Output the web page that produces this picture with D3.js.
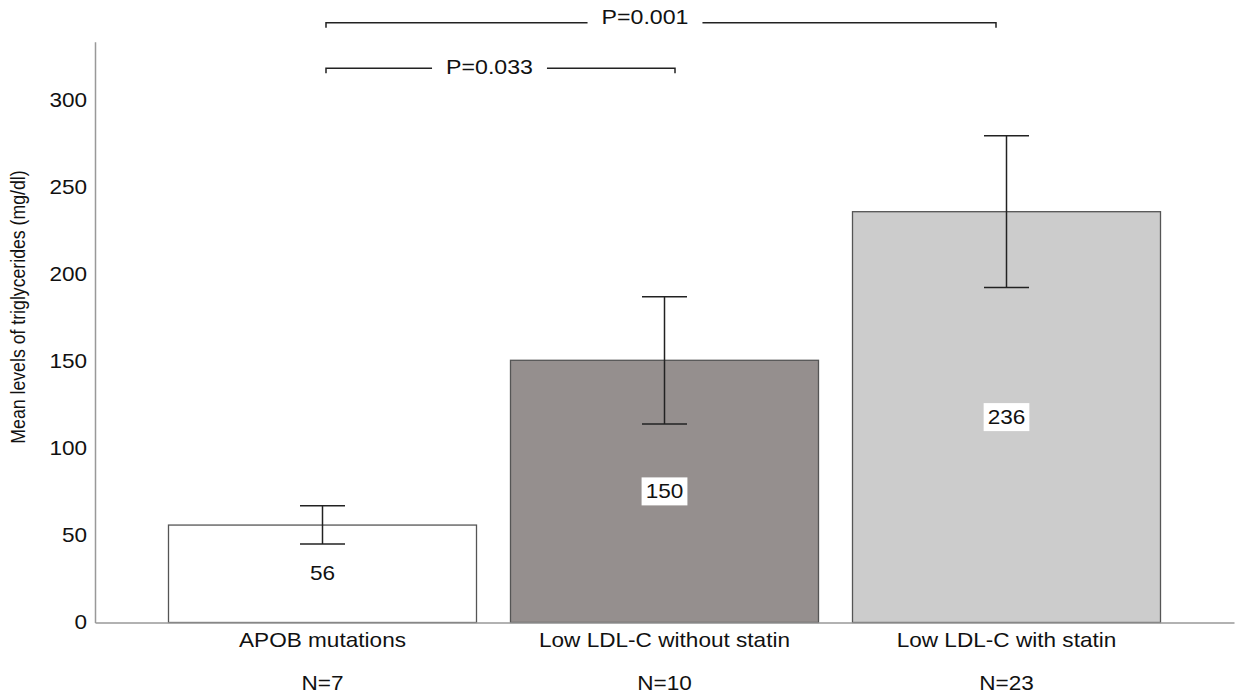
<!DOCTYPE html>
<html>
<head>
<meta charset="utf-8">
<script src="https://cdn.jsdelivr.net/npm/d3@7"></script>
<style>
  html, body { margin: 0; padding: 0; background: #fff; }
  svg { display: block; }
  text { font-family: "Liberation Sans", Arial, sans-serif; fill: #111; }
</style>
</head>
<body>
<div id="chart"></div>
<script>
// data
const categories = ["APOB mutations", "Low LDL-C without statin", "Low LDL-C with statin"];
const sampleSizes = ["N=7", "N=10", "N=23"];
const means = [56.0, 150.7, 236.1];
const ciLow = [45.1, 114.1, 192.6];
const ciHigh = [67.1, 187.2, 279.8];
const valueLabels = ["56", "150", "236"];
const yTicks = [0, 50, 100, 150, 200, 250, 300];
const comparisons = [
  { from: 0, to: 2, label: "P=0.001", level: 344.7 },
  { from: 0, to: 1, label: "P=0.033", level: 318.5 },
];

const barFills = ["#ffffff", "#958f8e", "#cccccc"];
const stretch = 1.13; // reference text is a bit wider than normal

const width = 1237, height = 698;
const plotLeft = 95, plotRight = 1234, plotBottom = 622.5, plotTop = 41.7;

const svg = d3.select("#chart").append("svg")
  .attr("width", width)
  .attr("height", height);

const x = d3.scaleBand()
  .domain(categories)
  .range([plotLeft, plotRight])
  .paddingInner(0.0994)
  .paddingOuter(0.2149);

const y = d3.scaleLinear()
  .domain([0, 333.8])
  .range([plotBottom, plotTop]);

const cx = (i) => x(categories[i]) + x.bandwidth() / 2;

// Bars
svg.append("g")
  .selectAll("rect")
  .data(means)
  .enter()
  .append("rect")
  .attr("x", (d, i) => x(categories[i]))
  .attr("y", (d) => y(d))
  .attr("width", x.bandwidth())
  .attr("height", (d) => y(0) - y(d))
  .attr("fill", (d, i) => barFills[i])
  .attr("stroke", "#555")
  .attr("stroke-width", 1.3);

// Error bars
const err = svg.append("g").attr("stroke", "#222").attr("stroke-width", 1.5);
means.forEach((m, i) => {
  const c = cx(i);
  err.append("line").attr("x1", c).attr("x2", c).attr("y1", y(ciLow[i])).attr("y2", y(ciHigh[i]));
  [ciLow[i], ciHigh[i]].forEach((v) => {
    err.append("line").attr("x1", c - 22.5).attr("x2", c + 22.5).attr("y1", y(v)).attr("y2", y(v));
  });
});

// Value labels in white boxes
const vl = svg.append("g");
means.forEach((m, i) => {
  const c = cx(i);
  const my = (y(m) + y(0)) / 2;
  const g = vl.append("g");
  const box = g.append("rect").attr("fill", "#fff");
  const t = g.append("text")
    .attr("transform", `translate(${c},${my}) scale(${stretch},1)`)
    .attr("text-anchor", "middle")
    .attr("dominant-baseline", "central")
    .attr("font-size", 20)
    .text(valueLabels[i]);
  const bb = t.node().getBBox();
  const w = bb.width * stretch + 8;
  box.attr("x", c - w / 2).attr("y", my - 14).attr("width", w).attr("height", 28);
});

// Y axis
const yAxis = svg.append("g")
  .attr("transform", `translate(${plotLeft},0)`)
  .call(d3.axisLeft(y).tickValues(yTicks).tickSize(0).tickSizeOuter(0).tickPadding(7));
yAxis.select(".domain").attr("stroke", "#999").attr("stroke-width", 1.5);
yAxis.selectAll(".tick text")
  .attr("font-size", 20)
  .attr("fill", "#111")
  .attr("font-family", "Liberation Sans, Arial, sans-serif")
  .attr("transform", `scale(${stretch},1)`);

// X axis
const xAxis = svg.append("g")
  .attr("transform", `translate(0,${plotBottom})`)
  .call(d3.axisBottom(x).tickSize(0).tickSizeOuter(0));
xAxis.select(".domain").attr("stroke", "#999").attr("stroke-width", 1.5);
xAxis.selectAll(".tick text")
  .attr("font-size", 20)
  .attr("fill", "#111")
  .attr("font-family", "Liberation Sans, Arial, sans-serif")
  .attr("dy", null)
  .attr("y", null)
  .attr("transform", `translate(0,24) scale(${stretch},1)`);
xAxis.selectAll(".tick")
  .append("text")
  .attr("font-size", 20)
  .attr("fill", "#111")
  .attr("font-family", "Liberation Sans, Arial, sans-serif")
  .attr("text-anchor", "middle")
  .attr("transform", `translate(0,67.5) scale(${stretch},1)`)
  .text((d, i) => sampleSizes[i]);

// Y axis title
svg.append("text")
  .attr("transform", `translate(25,307) scale(${stretch},1) rotate(-90)`)
  .attr("text-anchor", "middle")
  .attr("font-size", 17.7)
  .text("Mean levels of triglycerides (mg/dl)");

// Significance brackets
const nudge = [3.5, 10.5, -10.5];
const textShift = [-16, -11];
const textLift = [5, 0];
const br = svg.append("g");
comparisons.forEach((c, k) => {
  const x1 = cx(c.from) + nudge[c.from];
  const x2 = cx(c.to) + nudge[c.to];
  const ly = y(c.level);
  const tx = (x1 + x2) / 2 + textShift[k];
  const t = br.append("text")
    .attr("transform", `translate(${tx},${ly - textLift[k]}) scale(${stretch},1)`)
    .attr("text-anchor", "middle")
    .attr("dy", "-0.05em")
    .attr("dominant-baseline", "central")
    .attr("font-size", 20.5)
    .text(c.label);
  const half = t.node().getBBox().width * stretch / 2 + 14;
  br.append("path")
    .attr("d", `M${x1},${ly + 5}V${ly}H${tx - half}M${tx + half},${ly}H${x2}V${ly + 5}`)
    .attr("fill", "none")
    .attr("stroke", "#222")
    .attr("stroke-width", 1.5);
});
</script>
</body>
</html>
